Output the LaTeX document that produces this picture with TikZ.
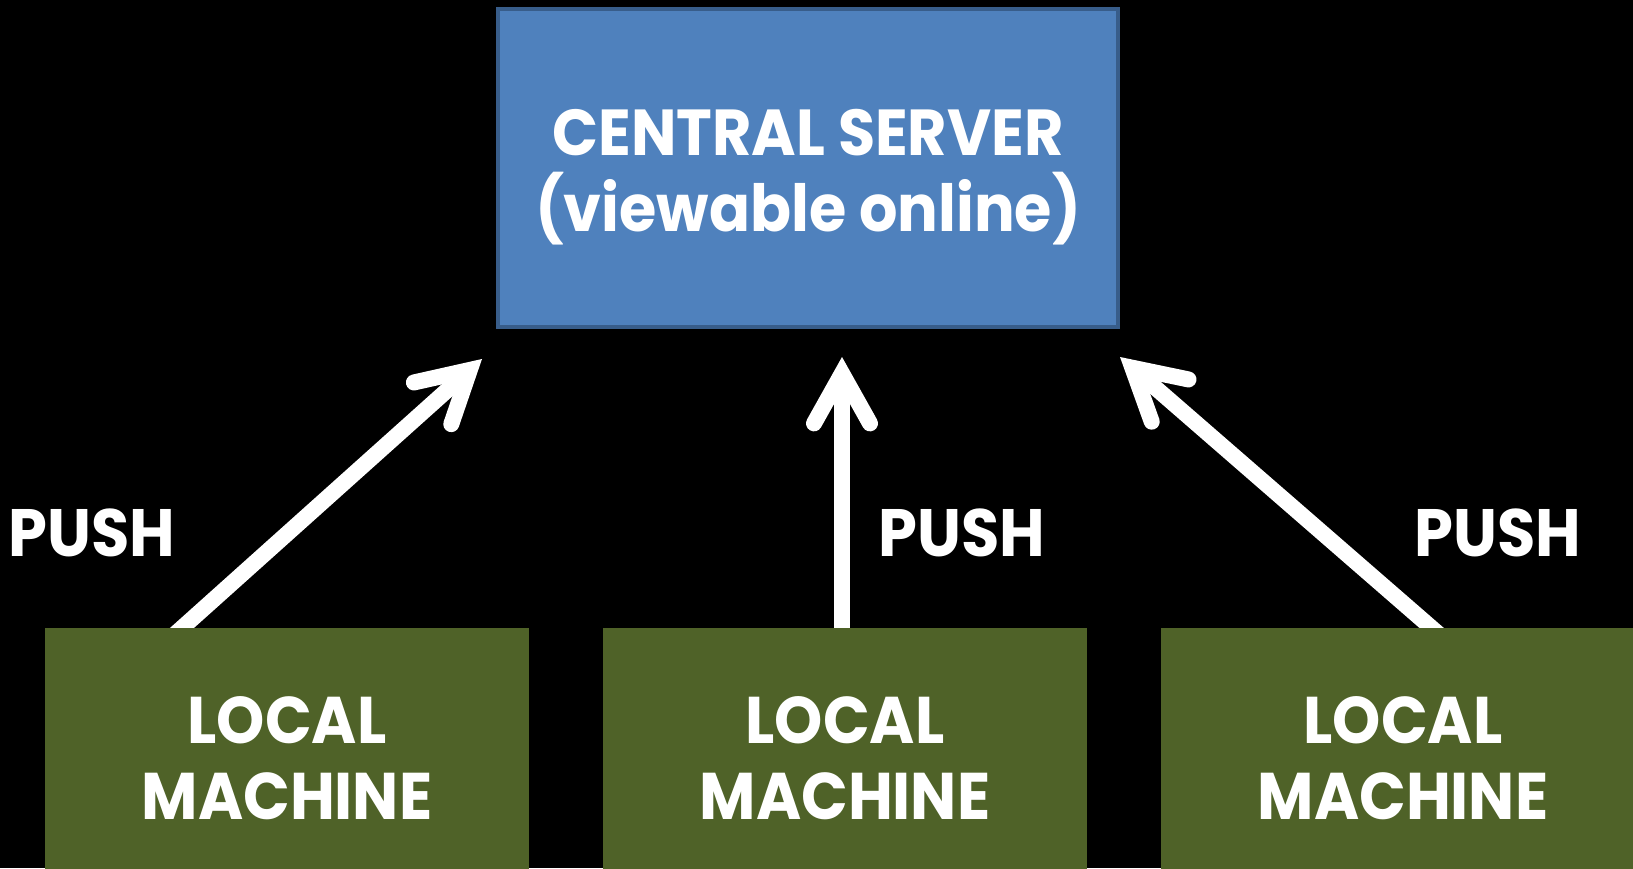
\documentclass[tikz,border=0pt]{standalone}
\usepackage{fontspec}
\setmainfont{Poppins}[FakeStretch=0.93]
\usetikzlibrary{arrows.meta, positioning}
\definecolor{serverblue}{RGB}{79, 129, 189}
\definecolor{serveredge}{RGB}{56, 93, 138}
\definecolor{machinegreen}{RGB}{79, 98, 40}
\pgfdeclarelayer{canvas}
\pgfdeclarelayer{wires}
\pgfsetlayers{canvas,wires,main}

\begin{document}
\begin{tikzpicture}[
    x=1pt, y=-1pt,
    server/.style={rectangle, minimum width=620pt, minimum height=318pt, text centered, align=center, text height=141pt, draw=serveredge, line width=4pt, fill=serverblue, text=white, font=\fontsize{65}{76}\selectfont\bfseries},
    machine/.style={rectangle, minimum width=484pt, minimum height=260pt, text centered, align=center, fill=machinegreen, text=white, font=\fontsize{66}{76}\selectfont\bfseries},
    pushlabel/.style={text=white, font=\fontsize{67}{76}\selectfont\bfseries},
    pusharrow/.style={line width=16pt, draw=white, -{Straight Barb[length=50pt, width=56pt, line cap=round, line join=miter]}}
]
\useasboundingbox (0,0) rectangle (1633,868);
\begin{pgfonlayer}{canvas}
\fill [black] (0,0) rectangle (1633,868);
\end{pgfonlayer}

% Server
\node (server) [server] at (808,168) {CENTRAL SERVER\\(viewable online)};

% Local machines
\node (localA) [machine] at (287,758) {LOCAL\\MACHINE};
\node (localB) [machine] at (845,758) {LOCAL\\MACHINE};
\node (localC) [machine] at (1403,758) {LOCAL\\MACHINE};

% Labels
\node (pushA) [pushlabel] at (92,533) {PUSH};
\node (pushB) [pushlabel] at (962,533) {PUSH};
\node (pushC) [pushlabel] at (1498,533) {PUSH};

% Arrow tips
\coordinate (tipA) at (482,359);
\coordinate (tipB) at (842,357);
\coordinate (tipC) at (1120,357);

% Arrows
\begin{pgfonlayer}{wires}
\foreach \from/\to/\shift in {localA/tipA/-116, localB/tipB/-3, localC/tipC/40} {
    \draw [pusharrow] ([xshift=\shift pt, yshift=-10pt]\from.north) -- (\to);
}
\end{pgfonlayer}

\end{tikzpicture}
\end{document}
